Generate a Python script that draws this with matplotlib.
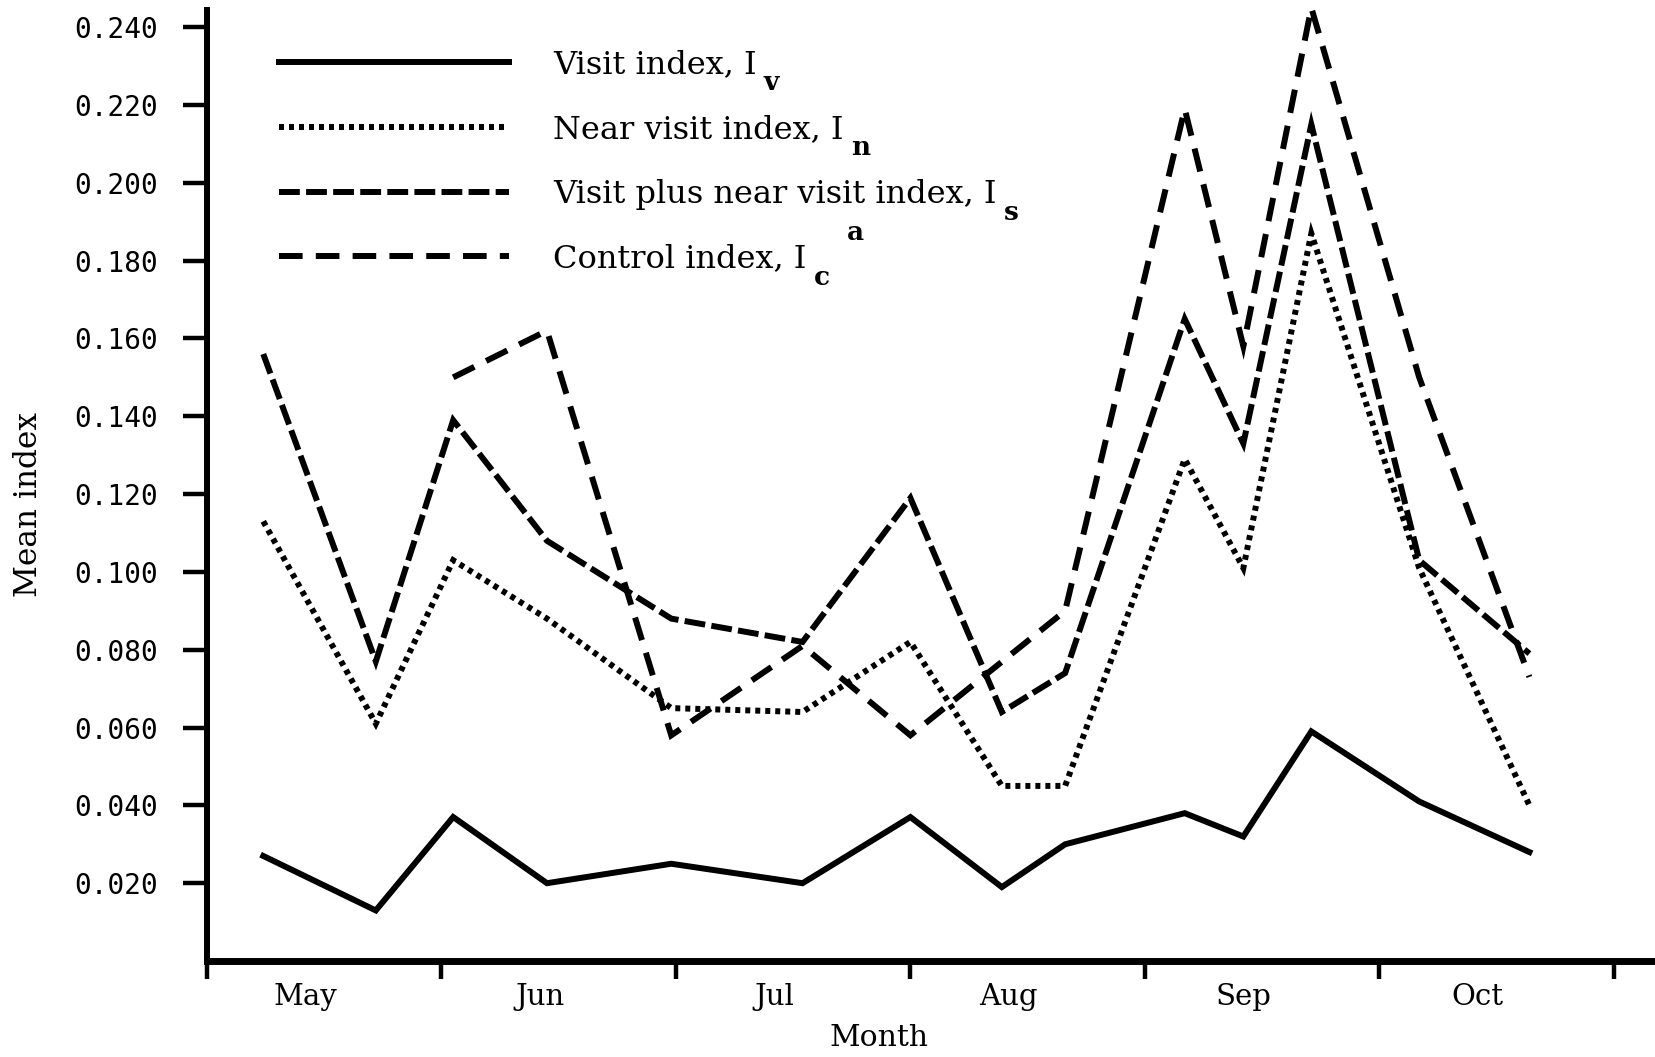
import matplotlib.pyplot as plt
import numpy as np

plt.rcParams['lines.scale_dashes'] = False
plt.rcParams['font.family'] = ['DejaVu Serif']

# sampling dates, in months from 1 May
dates = [0.24, 0.72, 1.05, 1.45, 1.98, 2.54, 3.00, 3.39, 3.66, 4.17, 4.42, 4.71, 5.17, 5.64]
visit = [0.027, 0.013, 0.037, 0.020, 0.025, 0.020, 0.037, 0.019, 0.030, 0.038, 0.032, 0.059, 0.041, 0.028]
near = [0.113, 0.061, 0.103, 0.088, 0.065, 0.064, 0.082, 0.045, 0.045, 0.129, 0.101, 0.187, 0.101, 0.040]
visit_plus = [0.156, 0.077, 0.139, 0.108, 0.088, 0.082, 0.119, 0.064, 0.074, 0.165, 0.133, 0.215, 0.103, 0.079]
# control index starts in June
control_dates = [1.05, 1.45, 1.98, 2.54, 3.00, 3.66, 4.17, 4.42, 4.71, 5.17, 5.64]
control = [0.150, 0.162, 0.058, 0.081, 0.058, 0.090, 0.219, 0.158, 0.245, 0.150, 0.073]

months = ['May', 'Jun', 'Jul', 'Aug', 'Sep', 'Oct']
yticks = [0.02, 0.04, 0.06, 0.08, 0.10, 0.12, 0.14, 0.16, 0.18, 0.20, 0.22, 0.24]

labels = ['Visit index, I', 'Near visit index, I',
          'Visit plus near visit index, I', 'Control index, I']
subs = ['v', 'n', 's', 'c']

fig = plt.figure(figsize=(16.56, 10.57), dpi=100)
ax = fig.add_axes([0.125, 0.0908, 0.875, 0.8997])

lw = 4.3
kw = dict(color='black', lw=lw, clip_on=False, solid_joinstyle='miter',
          dash_joinstyle='miter', dash_capstyle='butt')
ax.plot(dates, visit, label=labels[0], **kw)
ax.plot(dates, near, dashes=(3.6, 3.6), label=labels[1], **kw)
ax.plot(dates, visit_plus, dashes=(15, 4.5), label=labels[2], **kw)
ax.plot(control_dates, control, dashes=(17, 9.5), label=labels[3], **kw)

ax.set_xlim(0, 6.18)
ax.set_ylim(0, 0.2444)

for s in ['top', 'right']:
    ax.spines[s].set_visible(False)
ax.spines['left'].set_linewidth(4.3)
ax.spines['bottom'].set_linewidth(5)

ax.set_yticks(yticks)
ax.set_yticklabels(['%.3f' % v for v in yticks], fontfamily='DejaVu Sans Mono', fontsize=20)
ax.tick_params(axis='y', length=17, width=3.2, pad=18)

ax.set_xticks(range(7))
ax.set_xticklabels([])
ax.set_xticks([m + 0.42 for m in range(6)], minor=True)
ax.set_xticklabels(months, minor=True, fontsize=21)
ax.tick_params(axis='x', which='major', length=13, width=3.2)
ax.tick_params(axis='x', which='minor', length=0, pad=16)

ax.set_xlabel('Month', fontsize=21.5)
ax.xaxis.set_label_coords(0.464, -0.081)
ax.xaxis.label.set_va('center')
ax.set_ylabel('Mean index', fontsize=22.5)
ax.yaxis.set_label_coords(-0.123, 0.48)
ax.yaxis.label.set_va('center')

leg = ax.legend(loc='upper left', bbox_to_anchor=(0.05, 0.959), frameon=False,
                fontsize=23, handlelength=7.2, handletextpad=1.37,
                labelspacing=1.06, borderpad=0, borderaxespad=0)
fig.canvas.draw()
for t, sub in zip(leg.get_texts(), subs):
    ax.annotate(sub, xy=(1, 0.5), xycoords=t, xytext=(5, -13),
                textcoords='offset points', ha='left', va='center',
                fontsize=19, fontweight='bold', zorder=6)
ax.annotate('a', xy=(1, 0.5), xycoords=leg.get_texts()[3], xytext=(29, 19),
            textcoords='offset points', ha='left', va='center',
            fontsize=19, fontweight='bold', zorder=6)

fig.savefig('out.png', dpi=100)
